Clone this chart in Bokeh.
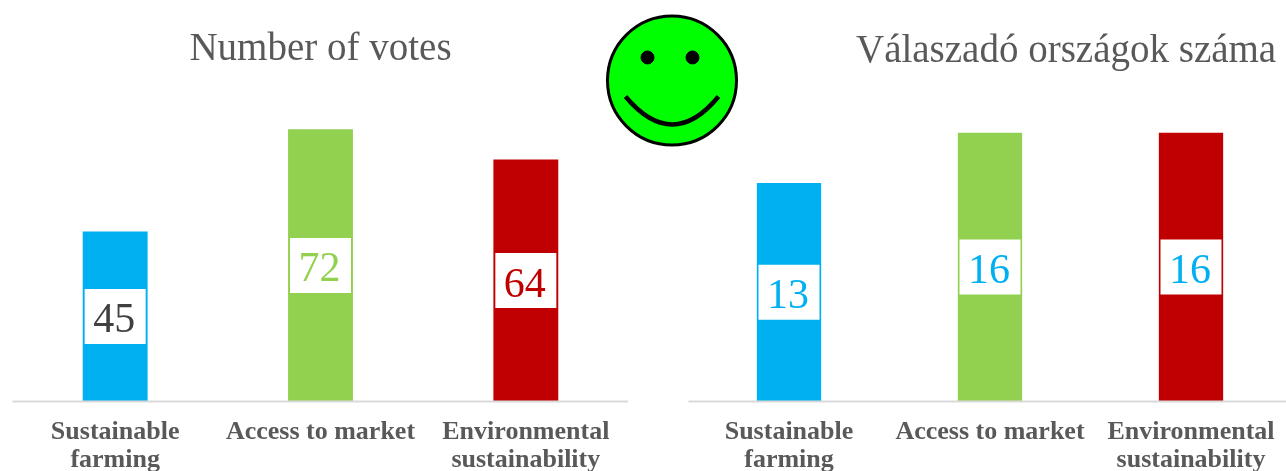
from bokeh.embed import file_html
from bokeh.resources import INLINE
from bokeh.plotting import figure
from bokeh.layouts import row
from bokeh.models import Range1d, Title, ColumnDataSource, AllLabels
from bokeh.core.properties import value

categories = ["Sustainable\nfarming", "Access to market", "Environmental\nsustainability"]
votes = [45, 72, 64]
countries = [13, 16, 16]
bar_colors = ["#00B0F0", "#92D050", "#C00000"]
votes_text = ["#404040", "#92D050", "#C00000"]
countries_text = ["#00B0F0", "#00B0F0", "#00B0F0"]
FONT = "Liberation Serif"
BASELINE = 401


def panel(title, vals, text_colors, left, fw, px_per_unit, bar_w, align, offset, top):
    fh = BASELINE - top
    p = figure(x_range=categories, y_range=Range1d(0, fh / px_per_unit), frame_width=fw, frame_height=fh,
               output_backend="svg", toolbar_location=None, y_axis_location=None,
               min_border_left=0, min_border_right=0, min_border_top=top, min_border_bottom=70,
               outline_line_color=None, background_fill_color=None, border_fill_color=None,
               frame_align=False)
    p.title = Title(text=title, align=align, offset=offset, text_font=FONT, text_font_size="39px",
                    text_font_style="normal", text_color="#595959", standoff=0)
    p.grid.visible = False
    src = ColumnDataSource(dict(x=categories, v=vals, mid=[v / 2 for v in vals], c=bar_colors,
                                t=[str(v) for v in vals], tc=text_colors))
    p.vbar(x="x", top="v", bottom=0, width=bar_w, fill_color="c", line_color=None, source=src)
    p.rect(x="x", y="mid", width=61, height=55, width_units="screen", height_units="screen",
           fill_color="white", line_color=None, source=src)
    p.text(x="x", y="mid", text="t", text_color="tc", text_align="center", text_baseline="middle",
           text_font=value(FONT), text_font_size="42px", x_offset=-1, y_offset=2, source=src)
    a = p.xaxis[0]
    a.axis_line_color = "#D9D9D9"
    a.axis_line_width = 2
    a.major_tick_line_color = None
    a.minor_tick_line_color = None
    a.major_label_text_font = FONT
    a.major_label_text_font_style = "bold"
    a.major_label_text_font_size = "26px"
    a.major_label_text_color = "#595959"
    a.major_label_standoff = 8
    a.major_label_text_line_height = 0.98
    a.major_label_policy = AllLabels()
    a.major_label_orientation = "horizontal"
    p.styles = {"position": "absolute", "left": f"{left}px", "top": "0px"}
    return p


left = panel("Number of votes", votes, votes_text, 11.5, 616, 3.78, 0.316, "center", 0, 67)
right = panel("Válaszadó országok száma", countries, countries_text, 687.5, 603, 16.8, 0.32, "left", 167.5, 69)

s = figure(x_range=Range1d(0, 160), y_range=Range1d(160, 0), frame_width=160, frame_height=160,
           output_backend="svg", toolbar_location=None, x_axis_location=None, y_axis_location=None,
           min_border_left=0, min_border_right=0, min_border_top=0, min_border_bottom=0,
           outline_line_color=None, background_fill_color=None, border_fill_color=None,
           frame_align=False)
s.grid.visible = False
s.circle(x=[81.5], y=[80], radius=64.5, fill_color="#00FF00", line_color="black", line_width=3)
s.scatter(x=[57, 102], y=[57, 57], size=13, color="black")
s.quadratic(x0=[35], y0=[96], x1=[128], y1=[96], cx=[82], cy=[152], line_color="black", line_width=4.5)
s.styles = {"position": "absolute", "left": "590px", "top": "0px"}

page = row(left, right, s)
page.styles = {"position": "fixed", "left": "0px", "top": "0px", "width": "1286px", "height": "480px",
               "overflow": "hidden", "display": "block"}

open("out.html", "w").write(file_html(page, INLINE))
